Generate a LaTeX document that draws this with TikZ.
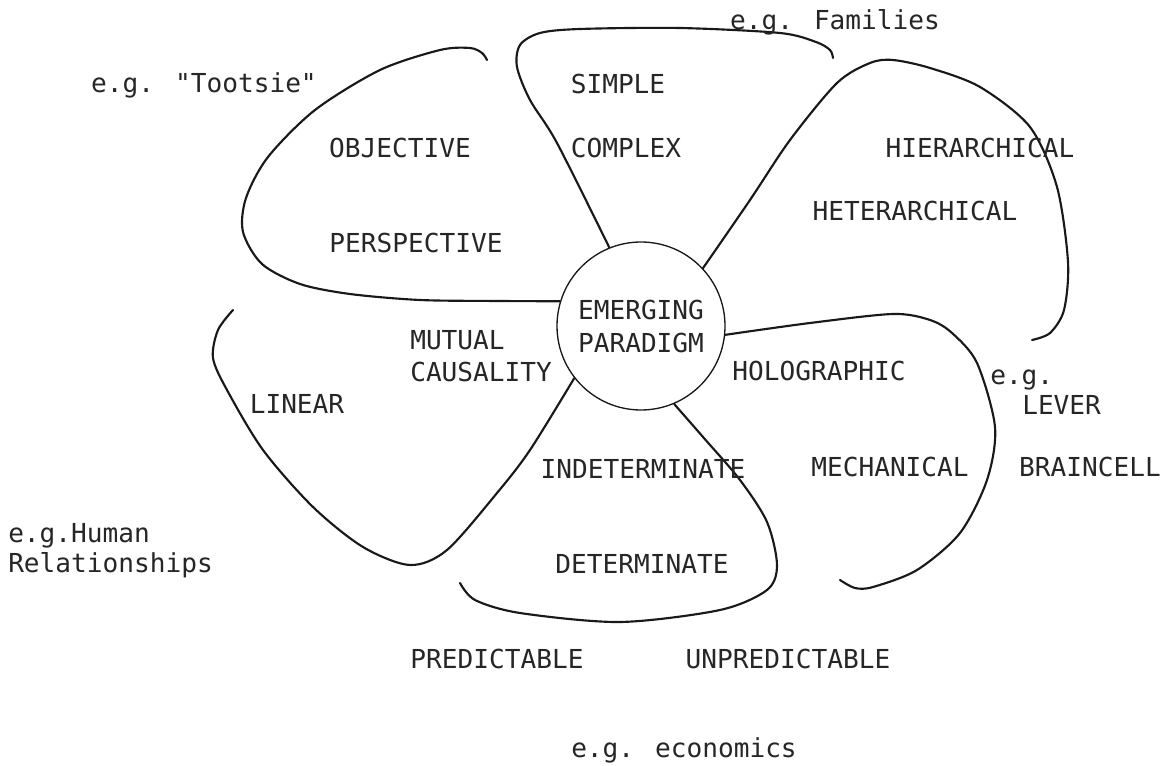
\documentclass[tikz,border=0pt]{standalone}
\usepackage{fontspec}
\newfontfamily\dotfont{DejaVu Sans Mono}
\usetikzlibrary{shapes.geometric, positioning}

\begin{document}
\begin{tikzpicture}[x=0.75pt, y=-0.75pt]
        \tikzstyle{lbl}=[font=\dotfont\fontsize{19.6}{24.75}\selectfont, text=black!85, inner sep=0pt];
        \tikzstyle{petal}=[draw=black!90, line width=1.6pt, line cap=round];
        \useasboundingbox[fill=white] (0,0) rectangle (1167,766);

        \node[lbl, draw=black!90, circle, line width=1pt, minimum size=126pt, align=center] (paradigm) at (641,326) {EMERGING\\PARADIGM};

        % free ends of the petals
        \coordinate (objend) at (487,60);
        \coordinate (simend) at (833,58);
        \coordinate (hierend) at (1032,340);
        \coordinate (holend) at (840,580);
        \coordinate (detend) at (460,583);
        \coordinate (mutend) at (233,310);

        \draw[petal] plot[smooth] coordinates {(paradigm.163) (500,301) (420,300) (350,294) (300,284) (262,264) (243,232) (246,198) (268,157) (315,110) (380,70) (440,50) (470,48) (482,53) (objend)};
        \draw[petal] plot[smooth] coordinates {(paradigm.112) (557,143) (530,100) (517,67) (520,45) (540,33) (580,29) (680,28) (780,33) (816,42) (830,50) (simend)};
        \draw[petal] plot[smooth] coordinates {(paradigm.43) (750,200) (790,140) (837,83) (870,63) (893,60) (930,68) (980,87) (1030,127) (1057,187) (1068,262) (1064,310) (1050,333) (hierend)};
        \draw[petal] plot[smooth] coordinates {(paradigm.-6) (810,323) (893,314) (930,320) (952,333) (977,363) (995,427) (987,480) (960,533) (917,570) (873,587) (855,588) (holend)};
        \draw[petal] plot[smooth] coordinates {(paradigm.-67) (703,437) (740,480) (767,522) (777,565) (767,590) (720,610) (620,622) (520,613) (475,600) (detend)};
        \draw[petal] plot[smooth] coordinates {(paradigm.-142) (530,450) (497,493) (447,550) (410,565) (363,547) (313,507) (263,450) (227,390) (213,358) (218,330) (mutend)};

        % labels
        \node[lbl] (tootsie) at (204,85) {e.g. "Tootsie"};
        \node[lbl] (families) at (835,22) {e.g. Families};
        \node[lbl] (simple) at (618,84) {SIMPLE};
        \node[lbl] (complex) at (626,148) {COMPLEX};
        \node[lbl] (objective) at (400,148) {OBJECTIVE};
        \node[lbl] (perspective) at (416,243) {PERSPECTIVE};
        \node[lbl] (hierarchical) at (980,148) {HIERARCHICAL};
        \node[lbl] (heterarchical) at (915,211) {HETERARCHICAL};
        \node[lbl, anchor=west] (mutual) at (410,340) {MUTUAL};
        \node[lbl, anchor=west] (causality) at (410,372) {CAUSALITY};
        \node[lbl] (linear) at (297,404) {LINEAR};
        \node[lbl] (holographic) at (819,371) {HOLOGRAPHIC};
        \node[lbl, anchor=west] (eglever) at (990,380) {e.g.};
        \node[lbl, anchor=west] (lever) at (1022,405) {LEVER};
        \node[lbl] (mechanical) at (890,467) {MECHANICAL};
        \node[lbl] (braincell) at (1090,467) {BRAINCELL};
        \node[lbl] (indeterminate) at (643,469) {INDETERMINATE};
        \node[lbl] (determinate) at (642,564) {DETERMINATE};
        \node[lbl, anchor=west] (human) at (8,536) {e.g.Human};
        \node[lbl, anchor=west] (relationships) at (8,565) {Relationships};
        \node[lbl] (predictable) at (497,659) {PREDICTABLE};
        \node[lbl] (unpredictable) at (788,659) {UNPREDICTABLE};
        \node[lbl] (economics) at (684,750) {e.g. economics};
\end{tikzpicture}
\end{document}
